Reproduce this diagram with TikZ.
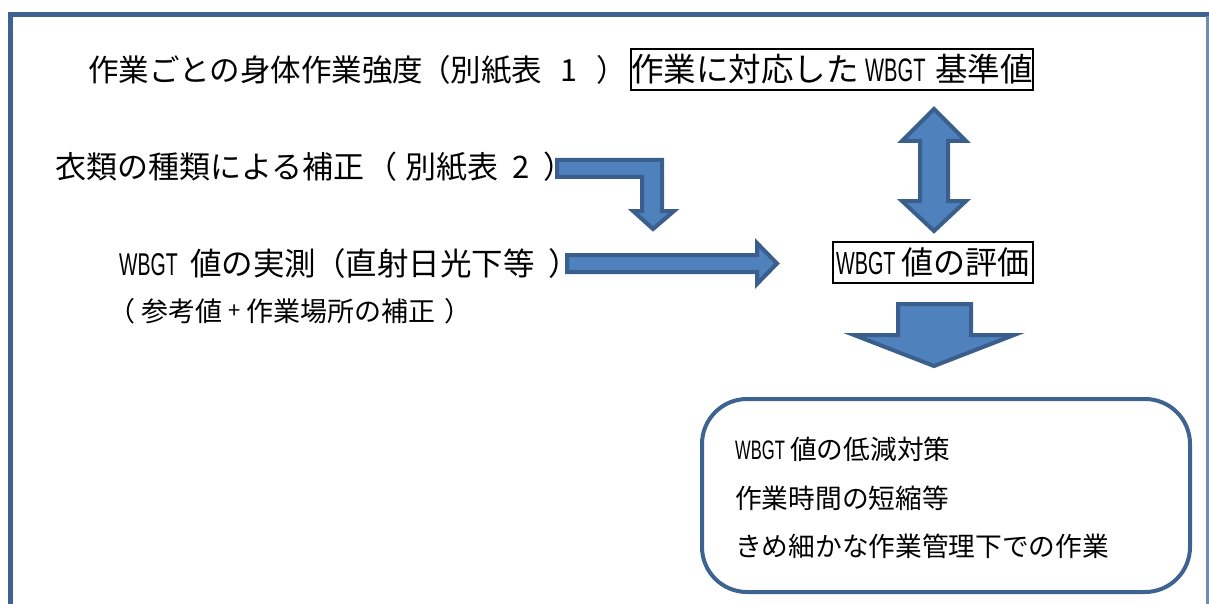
\documentclass[tikz,border=0pt]{standalone}
\usepackage{fontspec}
\setmainfont{Noto Sans CJK JP}
\newfontfamily\nf[FakeStretch=0.62]{Liberation Sans}
\definecolor{framec}{HTML}{3F6391}
\definecolor{framel}{HTML}{6F8CB3}
\definecolor{afill}{HTML}{4F81BD}
\definecolor{aline}{HTML}{3A5F8C}
\newcommand{\wb}{{\nf WBGT}}
\begin{document}
\begin{tikzpicture}[x=1pt,y=-1pt,
  lbl/.style={anchor=west,inner sep=0pt,font=\fontsize{30.5}{36}\selectfont},
  sbox/.style={draw=black,line width=2pt,inner sep=0pt},
  blockarrow/.style={fill=afill,draw=aline,line width=4pt,line join=miter}]
\useasboundingbox (0,0) rectangle (1209,604);
% frame
\draw[framec,line width=4.7pt] (10.3,604) -- (10.3,14.3) -- (1209,14.3);
\draw[framel,line width=3pt] (1207.7,16) -- (1207.7,604);
% texts
\node[lbl] (t1) at (88,70) {作業ごとの身体作業強度\hspace{-3pt}（\hspace{0pt}別紙表\hspace{18pt}1\hspace{19pt}）};
\node[sbox,minimum width=400pt,minimum height=41pt,font=\fontsize{32.5}{36}\selectfont] (b1) at (832,69.5) {作業に対応した\hspace{0.2em}\wb\hspace{0.3em}基準値};
\node[lbl,font=\fontsize{31}{36}\selectfont] (t2) at (55,167) {衣類の種類による補正\hspace{2pt}（\hspace{8pt}別紙表\hspace{14pt}2\hspace{14pt}）};
\node[lbl,font=\fontsize{31.5}{36}\selectfont] (t3) at (119,264) {\wb\hspace{0.4em}値の実測\hspace{-2pt}（\hspace{0pt}直射日光下等\hspace{14pt}）};
\node[lbl,font=\fontsize{27}{32}\selectfont] (t4) at (108,311) {（\hspace{6pt}参考値\hspace{6pt}{\fontsize{22}{22}\selectfont\raisebox{2.5pt}{+}}\hspace{6pt}作業場所の補正\hspace{9pt}）};
\node[sbox,minimum width=200pt,minimum height=41pt,font=\fontsize{32}{36}\selectfont] (b2) at (933,262.5) {\wb\hspace{0.2em}値の評価};
% result box
\node[draw=framec,line width=4pt,rounded corners=45pt,minimum width=488pt,minimum height=193pt,inner sep=0pt] (b3) at (946,495.5) {};
\node[anchor=west,inner sep=0pt,align=left,font=\fontsize{26.7}{48.5}\selectfont] (t5) at (735,498)
  {\wb\hspace{0.2em}値の低減対策\\作業時間の短縮等\\きめ細かな作業管理下での作業};
% bent arrow
\draw[blockarrow] (557,160) -- (662,160) -- (662,211) -- (674,211) -- (653,229) -- (633,211) -- (642,211) -- (642,177) -- (557,177) -- cycle;
% straight arrow
\draw[blockarrow] (567,255) -- (757,255) -- (757,243) -- (777,263.5) -- (757,284) -- (757,272) -- (567,272) -- cycle;
% double arrow
\draw[blockarrow] (934,109) -- (966,141) -- (948,141) -- (948,201) -- (966,201) -- (934,231) -- (902,201) -- (920,201) -- (920,141) -- (902,141) -- cycle;
% down arrow
\draw[blockarrow] (898,304) -- (971,304) -- (971,335) -- (1014,335) -- (934,366) -- (854,335) -- (898,335) -- cycle;
\end{tikzpicture}
\end{document}
